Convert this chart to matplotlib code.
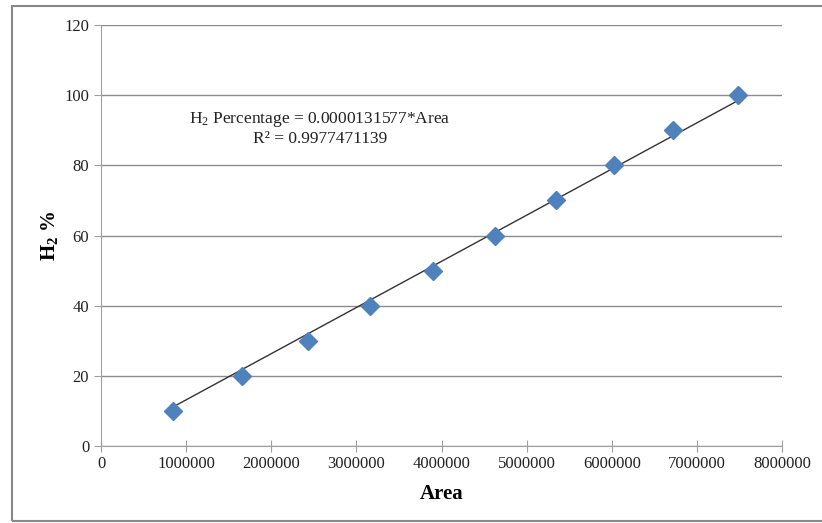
import matplotlib.pyplot as plt
from matplotlib.patches import Rectangle
from matplotlib.ticker import FuncFormatter

# calibration data: peak area vs H2 percentage
area = [846000, 1656000, 2432000, 3160000, 3900000, 4628000, 5345000, 6026000, 6720000, 7483000]
h2_pct = [10, 20, 30, 40, 50, 60, 70, 80, 90, 100]
slope = 0.0000131577
r2 = 0.9977471139

plt.rcParams['font.family'] = ['Liberation Serif', 'DejaVu Serif']
plt.rcParams['mathtext.fontset'] = 'custom'
plt.rcParams['mathtext.rm'] = 'Liberation Serif'
plt.rcParams['mathtext.it'] = 'Liberation Serif:italic'
plt.rcParams['mathtext.bf'] = 'Liberation Serif:bold'

fig = plt.figure(figsize=(8.22, 5.23), dpi=100)
ax = fig.add_axes([101/822, 77/523, 681/822, 421/523])

# chart frame
fig.patches.append(Rectangle((12/822, 2/523), 820/822, 515/523, transform=fig.transFigure,
                             fill=False, edgecolor='#888888', linewidth=1.5))

ax.set_xlim(0, 8000000)
ax.set_ylim(0, 120)
ax.set_xticks(range(0, 8000001, 1000000))
ax.set_yticks(range(0, 121, 20))
ax.xaxis.set_major_formatter(FuncFormatter(lambda v, p: '%d' % v))
ax.grid(axis='y', color='#8c8c8c', linewidth=1)
ax.set_axisbelow(True)
for s in ['top', 'right']:
    ax.spines[s].set_visible(False)
for s in ['left', 'bottom']:
    ax.spines[s].set_color('#a0a0a0')
ax.tick_params(axis='both', colors='#a0a0a0', labelcolor='#222222', labelsize=12, length=5)
ax.tick_params(axis='x', direction='inout', length=8)

fit_x = [min(area), max(area)]
fit_y = [slope * v for v in fit_x]
ax.plot(fit_x, fit_y, color='#333333', linewidth=1, zorder=2)
ax.plot(area, h2_pct, linestyle='none', marker='D', markersize=9.5,
        color='#4F81BD', markeredgecolor='#4F81BD', zorder=3)

ax.text(2570000, 90.4, 'H$_2$ Percentage = %.10f*Area\nR² = %.10f' % (slope, r2),
        ha='center', va='center', fontsize=12.5, linespacing=1.15, color='#222222')

ax.set_xlabel('Area', fontsize=15, fontweight='bold', labelpad=8)
ax.set_ylabel('H$_\\mathbf{2}$ %', fontsize=15, fontweight='bold', labelpad=3)

fig.savefig('out.png', dpi=100)
